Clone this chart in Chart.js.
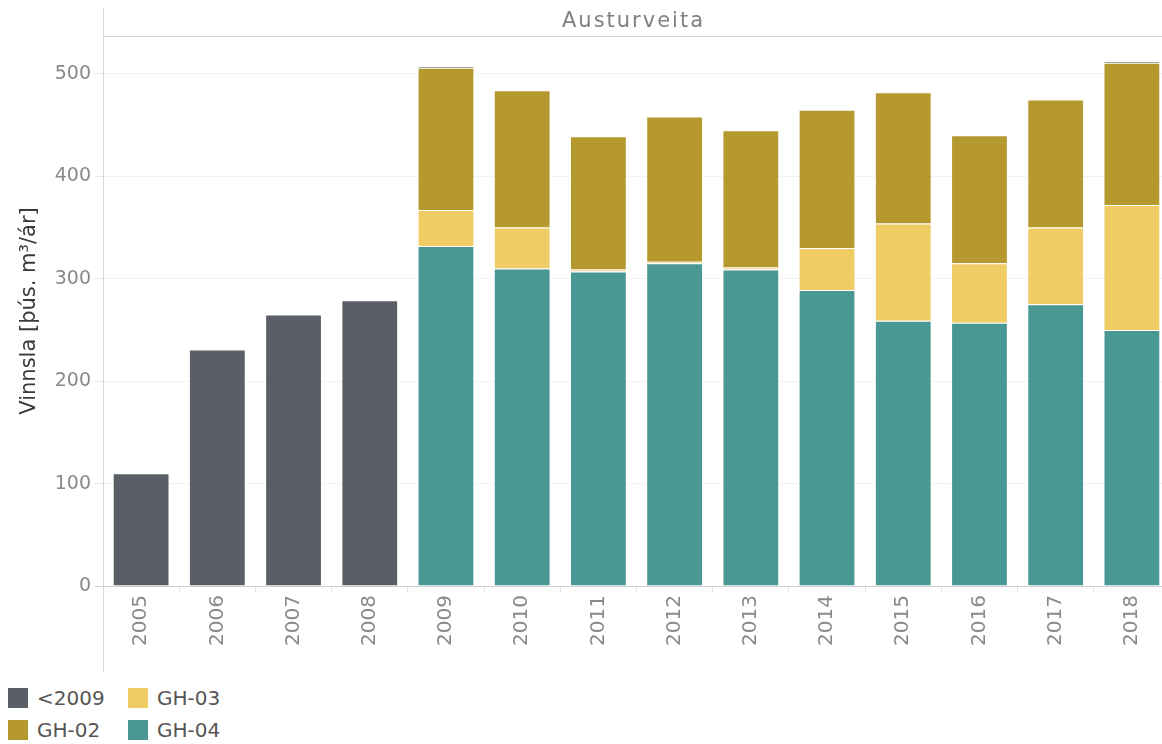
<!DOCTYPE html>
<html>
<head>
<meta charset="utf-8">
<script src="https://cdn.jsdelivr.net/npm/chart.js@4"></script>
<style>
    body { margin: 0; background: #fff; overflow: hidden; font-family: 'DejaVu Sans', sans-serif; }
    #chartBox { position: absolute; left: 0; top: 0; width: 1170px; height: 672px; }
    #legend {
        position: absolute; left: 8px; top: 686px;
        display: grid; grid-template-rows: 24px 24px; grid-auto-flow: column;
        grid-template-columns: 120px 140px; row-gap: 8px;
    }
    .item { display: flex; align-items: center; gap: 9px; font-size: 20px; color: #555; }
    .swatch { width: 20px; height: 20px; }
</style>
</head>
<body>
<div id="chartBox"><canvas id="chart"></canvas></div>
<div id="legend"></div>
<script>
const years = ['2005', '2006', '2007', '2008', '2009', '2010', '2011', '2012', '2013', '2014', '2015', '2016', '2017', '2018'];
const gh04 = [null, null, null, null, 332, 310, 307, 315, 309, 289, 259, 257, 275, 250];
const gh03 = [null, null, null, null, 35, 40, 2, 1.5, 2, 41, 95, 58, 75, 122];
const gh02 = [null, null, null, null, 139, 134, 130, 142, 134, 135, 128, 125, 125, 139];
const pre2009 = [110, 231, 265, 279, 1.5, null, null, null, null, null, null, null, null, 1];
const yTicks = [0, 100, 200, 300, 400, 500];
const legendOrder = ['<2009', 'GH-02', 'GH-03', 'GH-04'];

Chart.defaults.font.family = "'DejaVu Sans', sans-serif";

// frame lines and title that Tableau draws around the pane
const frame = {
    id: 'frame',
    afterDraw(chart) {
        const ctx = chart.ctx;
        const area = chart.chartArea;
        ctx.save();
        ctx.strokeStyle = '#d6d6d6';
        ctx.lineWidth = 1;
        ctx.beginPath();
        ctx.moveTo(area.left + 0.5, 8);
        ctx.lineTo(area.left + 0.5, 672);
        ctx.moveTo(area.left, area.top + 0.5);
        ctx.lineTo(chart.width, area.top + 0.5);
        ctx.stroke();
        ctx.fillStyle = '#808080';
        ctx.font = "21px 'DejaVu Sans'";
        ctx.letterSpacing = '2px';
        ctx.textAlign = 'center';
        ctx.textBaseline = 'middle';
        ctx.fillText('Austurveita', (area.left + 1162) / 2 + 1, 22);
        ctx.restore();
    }
};

const edge = 'rgba(255,255,255,0.35)';

const chart = new Chart(document.getElementById('chart'), {
    type: 'bar',
    data: {
        labels: years,
        datasets: [
            { label: 'GH-04', data: gh04, backgroundColor: '#4a9893' },
            { label: 'GH-03', data: gh03, backgroundColor: '#f0cc64' },
            { label: 'GH-02', data: gh02, backgroundColor: '#b5982e' },
            { label: '<2009', data: pre2009, backgroundColor: '#5a5e66' },
        ].map(d => Object.assign(d, { borderColor: edge, borderWidth: 1, borderSkipped: 'start' }))
    },
    options: {
        responsive: true,
        maintainAspectRatio: false,
        animation: false,
        layout: { padding: { top: 36, left: 0, right: 0, bottom: 0 } },
        datasets: { bar: { categoryPercentage: 1, barPercentage: 0.745 } },
        plugins: {
            legend: { display: false },
            tooltip: { enabled: false },
        },
        scales: {
            x: {
                stacked: true,
                afterFit(scale) { scale.height = 86; },
                grid: { drawOnChartArea: false, tickLength: 6, tickColor: '#e2e2e2', offset: true },
                border: { color: '#d0d0d0' },
                ticks: {
                    autoSkip: false, maxRotation: 90, minRotation: 90, padding: 3,
                    color: '#898989', font: { size: 20 }
                }
            },
            y: {
                stacked: true,
                min: 0,
                max: 537,
                afterFit(scale) { scale.width = 103; },
                afterBuildTicks(scale) { scale.ticks = yTicks.map(v => ({ value: v })); },
                grid: {
                    tickLength: 8,
                    color: ctx => ctx.tick && ctx.tick.value === 0 ? '#d0d0d0' : '#f2f2f2',
                    tickColor: ctx => ctx.tick && ctx.tick.value === 0 ? '#d0d0d0' : '#e6e6e6',
                },
                border: { display: false },
                ticks: { padding: 4, color: '#898989', font: { size: 19 } },
                title: {
                    display: true,
                    text: 'Vinnsla [þús. m³/ár]',
                    color: '#3a3a3a',
                    font: { size: 21 },
                    padding: { top: 17, bottom: 0 }
                }
            }
        }
    },
    plugins: [frame]
});

function getLegendElement(label, color) {
    const element = document.createElement('div');
    element.classList.add('item');
    element.innerHTML = `<span class="swatch" style="background: ${color}"></span><span>${label}</span>`;
    return element;
}

const legend = document.getElementById('legend');
const items = chart.options.plugins.legend.labels.generateLabels(chart);
legendOrder.forEach(name => {
    const item = items.find(i => i.text === name);
    legend.appendChild(getLegendElement(item.text, item.fillStyle));
});
</script>
</body>
</html>
